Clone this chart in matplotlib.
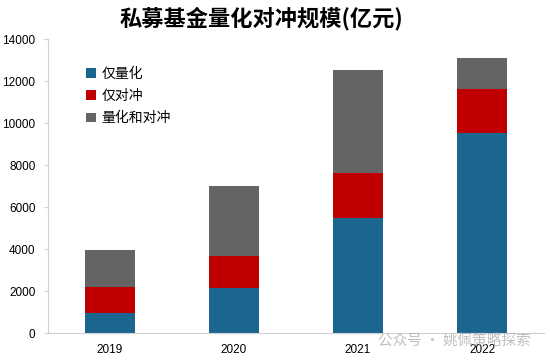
import matplotlib
matplotlib.use("Agg")
import matplotlib.pyplot as plt
import numpy as np

years = ["2019", "2020", "2021", "2022"]
quant_only = [950, 2160, 5460, 9510]
hedge_only = [1250, 1510, 2140, 2110]
quant_and_hedge = [1750, 3330, 4920, 1460]
series_labels = ["仅量化", "仅对冲", "量化和对冲"]
colors = ["#1B668E", "#C00000", "#646464"]

fig = plt.figure(figsize=(5.5, 3.63), dpi=100)
ax = fig.add_axes([48/550, 30/363, 496/550, 294/363])

x = np.arange(len(years))
w = 0.4
ax.bar(x, quant_only, w, color=colors[0], label=series_labels[0])
ax.bar(x, hedge_only, w, bottom=quant_only, color=colors[1], label=series_labels[1])
bottom3 = np.array(quant_only) + np.array(hedge_only)
ax.bar(x, quant_and_hedge, w, bottom=bottom3, color=colors[2], label=series_labels[2])

ax.set_xlim(-0.5, 3.5)
ax.set_ylim(0, 14000)
ax.set_yticks(np.arange(0, 14001, 2000))
ax.set_xticks(x)
ax.set_xticklabels(years)
for s in ["top", "right"]:
    ax.spines[s].set_visible(False)
for s in ["left", "bottom"]:
    ax.spines[s].set_color("#D0D0D0")
    ax.spines[s].set_linewidth(0.8)
ax.tick_params(axis="y", length=3, color="#D0D0D0", labelsize=8.5, pad=6)
ax.tick_params(axis="x", length=0, labelsize=8.5, pad=8)
for lab in ax.get_xticklabels() + ax.get_yticklabels():
    lab.set_fontfamily(["Liberation Sans", "DejaVu Sans"])

ax.legend(loc="upper left", bbox_to_anchor=(0.052, 0.948), frameon=False,
          handlelength=0.7, handleheight=0.7, handletextpad=0.4,
          labelspacing=0.6, prop={"family": ["Noto Sans CJK SC", "DejaVu Sans"], "size": 10})

fig.text(0.476, 0.95, "私募基金量化对冲规模(亿元)", ha="center", va="center",
         fontsize=16, fontweight="bold", family=["Noto Sans CJK SC", "DejaVu Sans"])

fig.text(0.827, 0.058, "公众号 · 姚佩策略探索", ha="center", va="center",
         fontsize=10.5, color="#B0B0B0", alpha=0.8,
         family=["Noto Sans CJK SC", "DejaVu Sans"])

fig.savefig("out.png", dpi=100)
